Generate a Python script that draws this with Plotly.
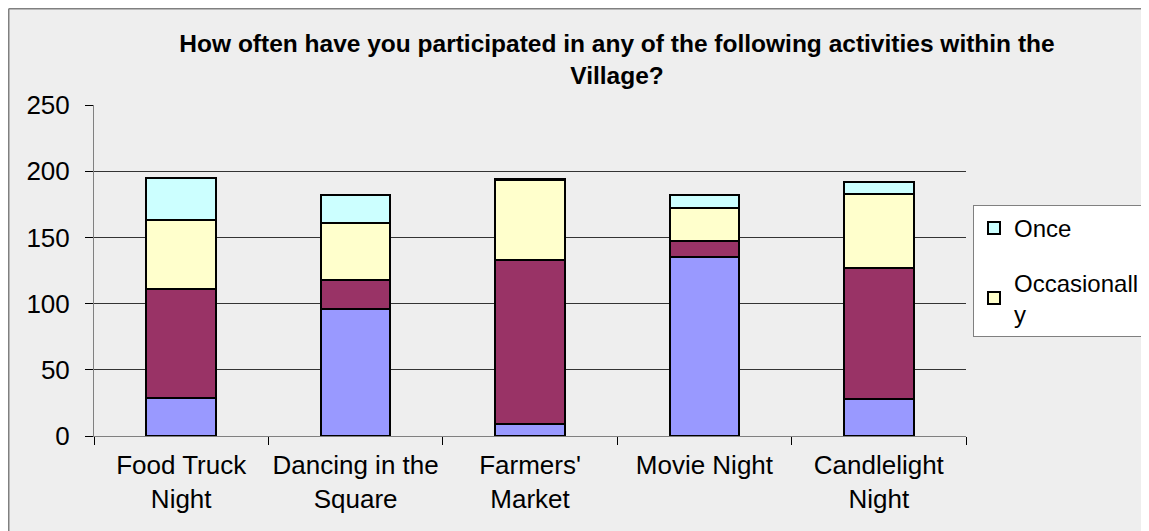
import plotly.graph_objects as go

categories = ["Food Truck<br>Night", "Dancing in the<br>Square", "Farmers'<br>Market", "Movie Night", "Candlelight<br>Night"]
never_vals = [29, 96, 9, 135, 28]
frequently_vals = [82, 22, 124, 12, 99]
occasionally_vals = [52, 43, 60, 25, 56]
once_vals = [32, 21, 1, 10, 9]

series = [
    ("Never", never_vals, "#9999FF", False, 4),
    ("Frequently", frequently_vals, "#993366", False, 3),
    ("Occasionall<br>y", occasionally_vals, "#FFFFCC", True, 2),
    ("Once", once_vals, "#CCFFFF", True, 1),
]

FONT = "Liberation Sans, Arial, sans-serif"

fig = go.Figure()
for i, (name, vals, color, show, rank) in enumerate(series):
    fig.add_trace(go.Bar(
        x=categories, y=vals, name=name, showlegend=show,
        legendgroup="g%d" % rank, legendrank=rank,
        marker=dict(color=color, line=dict(color="#000000", width=2)),
        width=0.4,
    ))

# figure is drawn at screen offset (8, 8) by the page body margin
W, H = 1141, 523
L, R, T, B = 86, 958, 97, 428

def px_x(px):
    return (px - L) / (R - L)

def px_y(py):
    return (B - py) / (B - T)

shapes = [
    dict(type="line", xref="paper", yref="paper", x0=px_x(0.75), x1=px_x(0.75), y0=px_y(H), y1=px_y(0.75),
         line=dict(color="#808080", width=1.5)),
    dict(type="line", xref="paper", yref="paper", x0=px_x(0.75), x1=px_x(W), y0=px_y(0.75), y1=px_y(0.75),
         line=dict(color="#808080", width=1.5)),
]

fig.update_layout(
    width=W, height=H,
    barmode="stack",
    paper_bgcolor="#EEEEEE",
    plot_bgcolor="#EEEEEE",
    margin=dict(l=L, r=W - R, t=T, b=H - B, pad=0, autoexpand=False),
    font=dict(family=FONT, color="#000000", size=26),
    title=dict(
        text="<b>How often have you participated in any of the following activities within the<br>Village?</b>",
        x=609 / W, xref="container", xanchor="center",
        y=1 - 44 / H, yref="container", yanchor="middle",
        font=dict(family=FONT, size=24.5, color="#000000"),
    ),
    xaxis=dict(
        showgrid=False,
        showline=True, linecolor="#808080", linewidth=1,
        ticks="outside", tickson="boundaries", ticklen=8, tickcolor="#000000",
        tickfont=dict(size=26), tickangle=0,
        ticklabelstandoff=6,
        automargin=False,
        fixedrange=True,
    ),
    yaxis=dict(
        range=[0, 250], dtick=50,
        showgrid=True, gridcolor="#333333", gridwidth=1,
        showline=True, linecolor="#808080", linewidth=1,
        ticks="outside", ticklen=8, tickcolor="#000000",
        tickfont=dict(size=26),
        ticklabelstandoff=10,
        zeroline=False,
        automargin=False,
        fixedrange=True,
    ),
    legend=dict(
        x=px_x(965), xanchor="left",
        y=px_y(197), yanchor="top",
        bgcolor="#FFFFFF", bordercolor="#808080", borderwidth=1,
        font=dict(family=FONT, size=24, color="#000000"),
        traceorder="grouped",
        tracegroupgap=20,
        itemwidth=30,
    ),
    shapes=shapes,
    showlegend=True,
)

fig.write_html("out.html")
